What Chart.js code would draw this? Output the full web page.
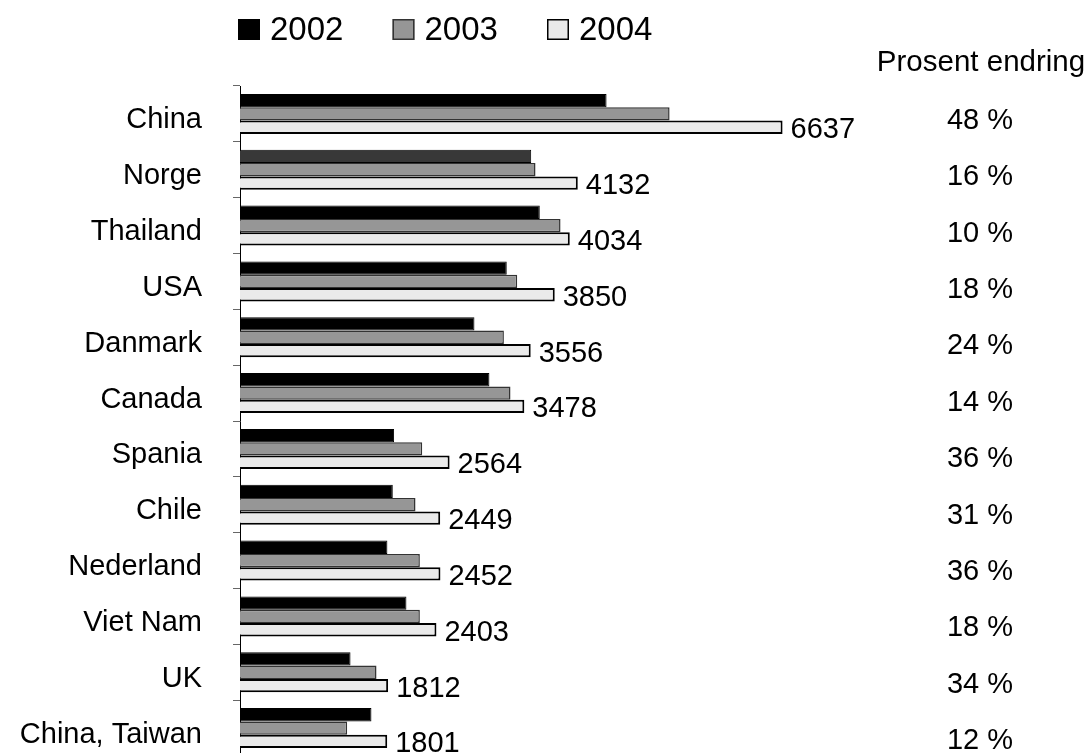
<!DOCTYPE html>
<html>
<head>
<meta charset="utf-8">
<script src="https://cdn.jsdelivr.net/npm/chart.js@4.4.1/dist/chart.umd.min.js"></script>
<style>
  html, body { margin: 0; padding: 0; background: #fff; overflow: hidden; }
  #wrap { width: 1088px; height: 816px; position: relative; }
</style>
</head>
<body>
<div id="wrap"><canvas id="chart"></canvas></div>
<script>
const countries = ["China", "Norge", "Thailand", "USA", "Danmark", "Canada", "Spania", "Chile", "Nederland", "Viet Nam", "UK", "China, Taiwan"];
const years = ["2002", "2003", "2004"];
const values2002 = [4484, 3562, 3667, 3263, 2868, 3051, 1885, 1869, 1803, 2036, 1352, 1608];
const values2003 = [5255, 3615, 3921, 3391, 3228, 3309, 2229, 2147, 2200, 2200, 1670, 1311];
const values2004 = [6637, 4132, 4034, 3850, 3556, 3478, 2564, 2449, 2452, 2403, 1812, 1801];
const percentChange = ["48 %", "16 %", "10 %", "18 %", "24 %", "14 %", "36 %", "31 %", "36 %", "18 %", "34 %", "12 %"];
const changeTitle = "Prosent endring";

const FONT = "'Liberation Sans', Arial, sans-serif";
const fill2002 = countries.map((name) => (name === "Norge" ? "#383838" : "#000000"));
const seriesStyle = [
  { fill: "#000000", border: "#000000" },
  { fill: "#969696", border: "#333333" },
  { fill: "#eaeaea", border: "#000000" },
];

// legend drawn by hand so it sits where the original one does
const topLegend = {
  id: "topLegend",
  afterDraw(chart) {
    const { ctx } = chart;
    ctx.save();
    ctx.font = `33px ${FONT}`;
    ctx.textBaseline = "middle";
    ctx.textAlign = "left";
    years.forEach((year, i) => {
      const x = 238 + i * 154.5;
      ctx.fillStyle = seriesStyle[i].fill;
      ctx.fillRect(x, 19, 22, 21);
      ctx.strokeStyle = seriesStyle[i].border;
      ctx.lineWidth = 1.5;
      ctx.strokeRect(x + 0.75, 19.75, 20.5, 19.5);
      ctx.fillStyle = "#000";
      ctx.fillText(year, x + 32, 31);
    });
    ctx.restore();
  },
};

// value labels next to the 2004 bars, and the percent column on the right
const sideText = {
  id: "sideText",
  afterDraw(chart) {
    const { ctx } = chart;
    const meta2004 = chart.getDatasetMeta(2);
    ctx.save();
    ctx.fillStyle = "#000";
    ctx.font = `29px ${FONT}`;
    ctx.textBaseline = "middle";
    ctx.textAlign = "left";
    meta2004.data.forEach((bar, i) => {
      ctx.fillText(String(values2004[i]), bar.x + 8, bar.y + 3);
    });
    ctx.textAlign = "center";
    percentChange.forEach((text, i) => {
      ctx.fillText(text, 980, 121 + i * 56.36);
    });
    ctx.font = `29.5px ${FONT}`;
    ctx.fillText(changeTitle, 981, 63);
    ctx.restore();
  },
};

new Chart(document.getElementById("chart"), {
  type: "bar",
  data: {
    labels: countries,
    datasets: [
      { label: years[0], data: values2002, backgroundColor: fill2002, borderColor: seriesStyle[0].border, borderWidth: 1 },
      { label: years[1], data: values2003, backgroundColor: seriesStyle[1].fill, borderColor: seriesStyle[1].border, borderWidth: 1.5 },
      { label: years[2], data: values2004, backgroundColor: seriesStyle[2].fill, borderColor: seriesStyle[2].border, borderWidth: 2 },
    ],
  },
  options: {
    indexAxis: "y",
    responsive: true,
    maintainAspectRatio: false,
    animation: false,
    layout: { padding: { top: 86, right: 194, bottom: 60, left: 0 } },
    datasets: { bar: { categoryPercentage: 0.715, barPercentage: 1.0 } },
    scales: {
      x: { display: false, min: 0, max: 8000 },
      y: {
        afterFit: (scale) => { scale.width = 240; },
        ticks: { color: "#000", font: { family: FONT, size: 29 }, padding: 31, labelOffset: 6.5 },
        grid: { drawOnChartArea: false, drawTicks: true, tickLength: 7, color: "#666", offset: true },
        border: { color: "#000", width: 1 },
      },
    },
    plugins: {
      tooltip: { enabled: false },
      legend: { display: false },
    },
  },
  plugins: [topLegend, sideText],
});
</script>
</body>
</html>
